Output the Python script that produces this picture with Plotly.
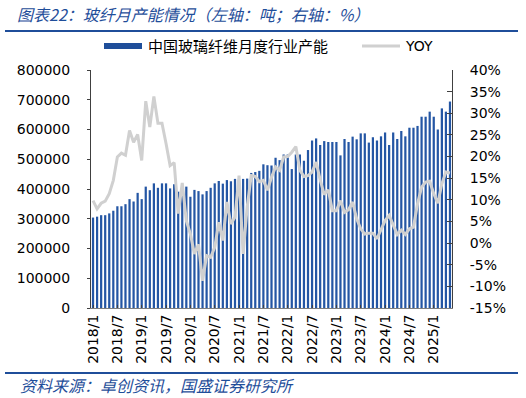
import plotly.graph_objects as go

# ---- data ----
months = [f"{y}/{m}" for y in range(2018, 2026) for m in range(1, 13)][:89]  # 2018/1 .. 2025/5

capacity = [
    304000, 307000, 312000, 312000, 318000, 327000, 342000, 342000, 349000, 366000, 358000, 387000,
    366000, 408000, 396000, 419000, 404000, 419000, 419000, 402000, 416000, 391000, 404000, 408000,
    374000, 397000, 393000, 382000, 393000, 404000, 419000, 427000, 418000, 430000, 426000, 434000,
    388000, 434000, 435000, 454000, 457000, 461000, 483000, 480000, 479000, 505000, 497000, 516000,
    516000, 467000, 516000, 516000, 495000, 531000, 563000, 570000, 548000, 561000, 558000, 558000,
    558000, 513000, 568000, 558000, 576000, 567000, 587000, 587000, 556000, 574000, 563000, 577000,
    590000, 548000, 590000, 568000, 595000, 577000, 606000, 606000, 612000, 643000, 643000, 660000,
    643000, 600000, 671000, 660000, 694000,
]

yoy = [
    9.8, 7.9, 9.2, 9.7, 11.4, 14.5, 19.9, 20.8, 20.3, 26.0, 23.3, 25.1,
    19.1, 32.8, 26.8, 33.9, 27.7, 27.7, 23.0, 17.9, 18.6, 6.8, 13.9, 5.2,
    2.1, -2.5, -0.3, -8.7, -2.9, -3.3, -1.0, 4.8, 0.6, 9.5, 4.4, 6.0,
    15.6, -2.5, 8.3, 15.6, 15.4, 14.2, 14.5, 12.2, 15.2, 17.6, 16.8, 19.9,
    20.0, 21.0, 22.3, 16.8, 15.4, 15.6, 16.4, 18.7, 14.6, 11.2, 12.3, 7.5,
    7.5, 9.8, 7.1, 7.7, 9.5, 5.6, 3.3, 2.1, 2.3, 2.3, 1.0, 3.3,
    5.2, 6.4, 4.4, 2.0, 3.0, 2.0, 3.3, 3.7, 9.1, 12.9, 14.1, 14.3,
    11.4, 9.2, 13.7, 16.4, 16.2,
]

xtick_labels = months[::6]
left_ticks = list(range(0, 800001, 100000))
right_ticks = list(range(-15, 41, 5))
right_tick_text = [f"{v}%" for v in right_ticks]

bar_name = "中国玻璃纤维月度行业产能"
line_name = "YOY"
title_text = "图表22：玻纤月产能情况（左轴：吨；右轴：%）"
source_text = "资料来源：卓创资讯，国盛证券研究所"

# ---- layout geometry ----
W, H = 526, 398
L, R, T, B = 91, 74, 70, 90
PW, PH = W - L - R, H - T - B

def px(x):
    return (x - L) / PW

def py(y):
    return (H - B - y) / PH

BLUE = "#2456A4"
TEXT_BLUE = "#1F4E9A"
GRAY = "#D0D0D0"
CJK = "Noto Sans CJK SC"
NUM = "DejaVu Sans"

fig = go.Figure()
fig.add_trace(go.Bar(x=months, y=capacity, name=bar_name, marker_color=BLUE,
                     marker_line_width=0, yaxis="y"))
fig.add_trace(go.Scatter(x=months, y=yoy, name=line_name, mode="lines",
                         line=dict(color=GRAY, width=3), yaxis="y2"))

fig.update_layout(
    width=W, height=H,
    margin=dict(l=L, r=R, t=T, b=B),
    paper_bgcolor="white", plot_bgcolor="white",
    showlegend=False,
    bargap=0.45,
    font=dict(family=NUM, size=14, color="#000000"),
    xaxis=dict(
        type="category", tickmode="array", tickvals=xtick_labels, ticktext=xtick_labels,
        tickangle=-90, showgrid=False, showline=True, linecolor="#7F7F7F", linewidth=1,
        ticks="inside", ticklen=3, tickcolor="#404040",
        tickfont=dict(family=NUM, size=14, color="#000000"),
    ),
    yaxis=dict(
        range=[0, 800000], tickmode="array", tickvals=left_ticks,
        ticktext=[str(v) for v in left_ticks], showgrid=False,
        showline=True, linecolor="#404040", linewidth=1, ticks="outside", ticklen=3,
        tickcolor="#404040", ticklabelstandoff=14, zeroline=False,
        tickfont=dict(family=NUM, size=14, color="#000000"),
    ),
    yaxis2=dict(
        range=[-15, 40], tickmode="array", tickvals=right_ticks, ticktext=right_tick_text,
        overlaying="y", side="right",
        showgrid=False, showline=True, linecolor="#404040", linewidth=1, ticks="inside",
        ticklen=5, tickcolor="#404040", ticklabelstandoff=14, zeroline=False,
        tickfont=dict(family=NUM, size=14, color="#000000"),
    ),
)

shapes = [
    dict(type="line", xref="paper", yref="paper", x0=px(5), x1=px(518), y0=py(31), y1=py(31),
         line=dict(color=TEXT_BLUE, width=2)),
    dict(type="line", xref="paper", yref="paper", x0=px(5), x1=px(518), y0=py(373), y1=py(373),
         line=dict(color=TEXT_BLUE, width=2)),
    dict(type="rect", xref="paper", yref="paper", x0=px(104), x1=px(142), y0=py(49), y1=py(43),
         fillcolor="#1F4E9A", line=dict(width=0)),
    dict(type="line", xref="paper", yref="paper", x0=px(362), x1=px(400), y0=py(46), y1=py(46),
         line=dict(color=GRAY, width=3)),
]
fig.update_layout(shapes=shapes)

annotations = [
    dict(text=f"<i>{title_text}</i>", xref="paper", yref="paper", x=px(15), y=py(14),
         xanchor="left", yanchor="middle", showarrow=False,
         font=dict(family=CJK, size=16, color=TEXT_BLUE)),
    dict(text=f"<i>{source_text}</i>", xref="paper", yref="paper", x=px(18), y=py(385),
         xanchor="left", yanchor="middle", showarrow=False,
         font=dict(family=CJK, size=16, color=TEXT_BLUE)),
    dict(text=bar_name, xref="paper", yref="paper", x=px(146), y=py(46),
         xanchor="left", yanchor="middle", showarrow=False,
         font=dict(family=CJK, size=15, color="#000000")),
    dict(text=line_name, xref="paper", yref="paper", x=px(403), y=py(46),
         xanchor="left", yanchor="middle", showarrow=False,
         font=dict(family=NUM, size=14, color="#000000")),
]
fig.update_layout(annotations=annotations)

fig.write_html("out.html", config={"displayModeBar": False},
               post_script="document.body.style.margin='0';")
